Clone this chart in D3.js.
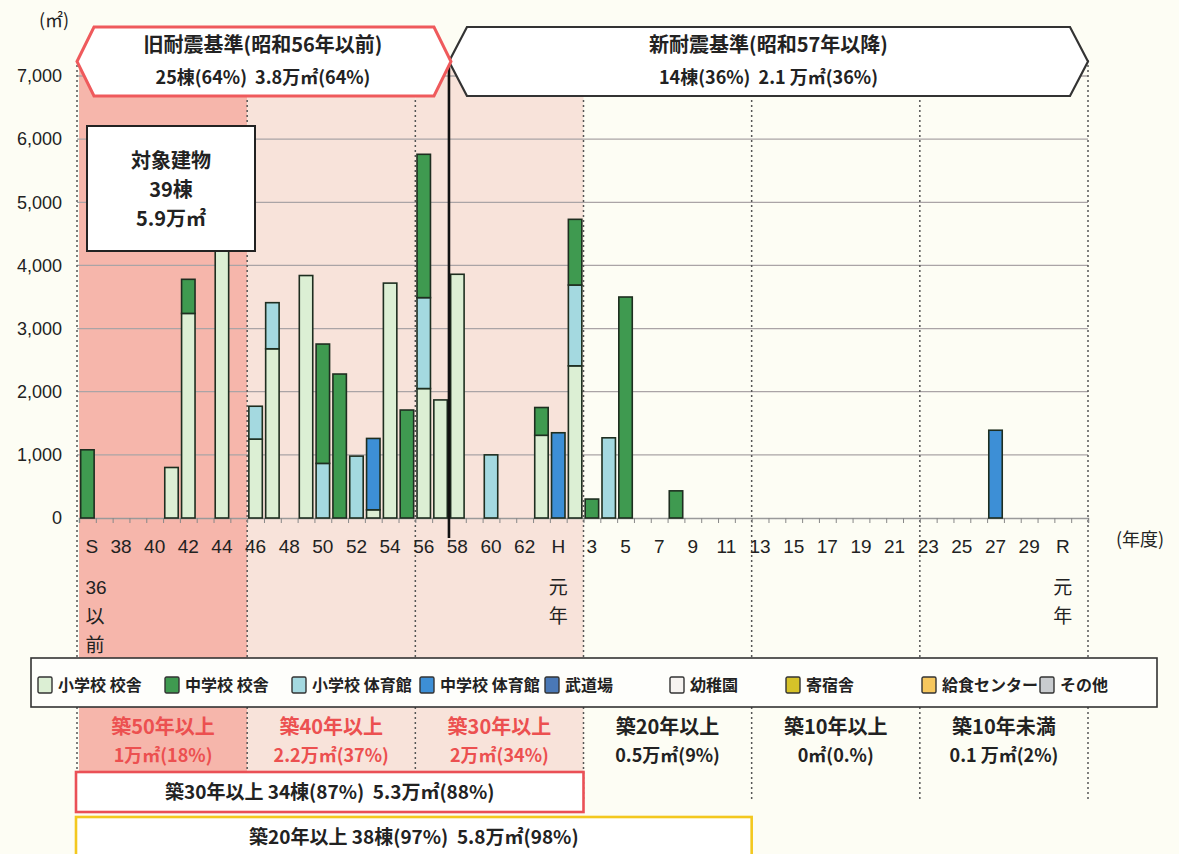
<!DOCTYPE html>
<html>
<head>
<meta charset="utf-8">
<script src="https://cdn.jsdelivr.net/npm/d3@7"></script>
<style>
  body { margin: 0; background: #fdfdf4; }
  svg { display: block; }
  text { font-family: "Noto Sans CJK JP", "Noto Sans", sans-serif; fill: #222; white-space: pre; }
  .num { font-family: "Liberation Sans", Arial, sans-serif; }
</style>
</head>
<body>
<svg id="chart" width="1179" height="854"></svg>
<script>
// categories: fiscal years, S36 and earlier through R2
var categories = [
  "S36以前","S37","S38","S39","S40","S41","S42","S43","S44","S45",
  "S46","S47","S48","S49","S50","S51","S52","S53","S54","S55",
  "S56","S57","S58","S59","S60","S61","S62","S63","H元","H2",
  "H3","H4","H5","H6","H7","H8","H9","H10","H11","H12",
  "H13","H14","H15","H16","H17","H18","H19","H20","H21","H22",
  "H23","H24","H25","H26","H27","H28","H29","H30","R元","R2"
];

// floor area (m2) by type
var shoKosha = [
  0,0,0,0,0,800,3240,0,4750,0,
  1250,2680,0,3840,0,0,0,130,3720,0,
  2050,1870,3860,0,0,0,0,1310,0,2410,
  0,0,0,0,0,0,0,0,0,0,
  0,0,0,0,0,0,0,0,0,0,
  0,0,0,0,0,0,0,0,0,0
];
var shoTaiiku = [
  0,0,0,0,0,0,0,0,0,0,
  520,730,0,0,865,0,980,0,0,0,
  1440,0,0,0,1000,0,0,0,0,1280,
  0,1270,0,0,0,0,0,0,0,0,
  0,0,0,0,0,0,0,0,0,0,
  0,0,0,0,0,0,0,0,0,0
];
var chuKosha = [
  1080,0,0,0,0,0,540,0,0,0,
  0,0,0,0,1890,2280,0,0,0,1710,
  2270,0,0,0,0,0,0,440,0,1040,
  300,0,3500,0,0,430,0,0,0,0,
  0,0,0,0,0,0,0,0,0,0,
  0,0,0,0,0,0,0,0,0,0
];
var chuTaiiku = [
  0,0,0,0,0,0,0,0,0,0,
  0,0,0,0,0,0,0,1130,0,0,
  0,0,0,0,0,0,0,0,1350,0,
  0,0,0,0,0,0,0,0,0,0,
  0,0,0,0,0,0,0,0,0,0,
  0,0,0,0,1390,0,0,0,0,0
];

var legendNames = ["小学校 校舎","中学校 校舎","小学校 体育館","中学校 体育館","武道場","幼稚園","寄宿舎","給食センター","その他"];
var legendColors = ["#dcefd4","#3f9a50","#a4d9e0","#3d8fd6","#4a78b6","#f6f3f0","#d6c229","#f6c75e","#c9cccf"];

var yTicks = [0,1000,2000,3000,4000,5000,6000,7000];

// tick labels, each a column of lines
var xLabels = [
  ["S36以前", ["S","36","以","前"]],
  ["S38",["38"]],["S40",["40"]],["S42",["42"]],["S44",["44"]],["S46",["46"]],
  ["S48",["48"]],["S50",["50"]],["S52",["52"]],["S54",["54"]],["S56",["56"]],
  ["S58",["58"]],["S60",["60"]],["S62",["62"]],
  ["H元", ["H","元","年"]],
  ["H3",["3"]],["H5",["5"]],["H7",["7"]],["H9",["9"]],["H11",["11"]],["H13",["13"]],
  ["H15",["15"]],["H17",["17"]],["H19",["19"]],["H21",["21"]],["H23",["23"]],
  ["H25",["25"]],["H27",["27"]],["H29",["29"]],
  ["R元", ["R","元","年"]]
];

// age bands (築年数) in groups of ten categories
var ageBands = ["築50年以上","築40年以上","築30年以上","築20年以上","築10年以上","築10年未満"];
var ageAreas = ["1万㎡(18%)","2.2万㎡(37%)","2万㎡(34%)","0.5万㎡(9%)","0㎡(0.%)","0.1 万㎡(2%)"];

var svg = d3.select("#chart");

var x = d3.scaleBand().domain(categories).range([79, 1088]).paddingInner(0.2).paddingOuter(0.1);
var step = x.step();
var x0 = 79;
function edge(i) { return x0 + step * i; }
var y = d3.scaleLinear().domain([0, 7000]).range([518, 76]);

// background bands
var bandFills = ["#f6b6ab","#f8e3da","#f8e3da"];
bandFills.forEach(function(c, i) {
  svg.append("rect").attr("x", edge(i*10)).attr("y", 60)
    .attr("width", step*10).attr("height", 598).attr("fill", c);
  svg.append("rect").attr("x", edge(i*10)).attr("y", 707)
    .attr("width", step*10).attr("height", 66).attr("fill", c);
});

// grid
svg.append("g").selectAll("line").data(yTicks.slice(1)).enter().append("line")
  .attr("x1", 77).attr("x2", edge(60))
  .attr("y1", function(d){ return y(d); }).attr("y2", function(d){ return y(d); })
  .attr("stroke", "#aaa4a6").attr("stroke-width", 1.3);

// dotted band lines
var bounds = [0,10,20,30,40,50,60];
svg.append("g").selectAll("line").data(bounds).enter().append("line")
  .attr("x1", function(d){ return d === 0 ? 77 : edge(d); })
  .attr("x2", function(d){ return d === 0 ? 77 : edge(d); })
  .attr("y1", 60).attr("y2", 658)
  .attr("stroke", "#555").attr("stroke-width", 1.5).attr("stroke-dasharray", "2,3");
svg.append("g").selectAll("line").data(bounds).enter().append("line")
  .attr("x1", function(d){ return d === 0 ? 77 : edge(d); })
  .attr("x2", function(d){ return d === 0 ? 77 : edge(d); })
  .attr("y1", 707).attr("y2", 802)
  .attr("stroke", "#555").attr("stroke-width", 1.5).attr("stroke-dasharray", "2,3");

// y axis
var yAxis = d3.axisLeft(y).tickValues(yTicks).tickFormat(d3.format(",")).tickSize(0).tickPadding(15);
var gy = svg.append("g").attr("transform", "translate(77,0)").call(yAxis);
gy.select(".domain").remove();
gy.selectAll("text").attr("class", "num")
  .style("font-family", "'Liberation Sans Narrow', 'Liberation Sans', Arial, sans-serif")
  .style("font-size", "18px").attr("fill", "#222");

// x axis with ticks at category edges
var xe = d3.scaleLinear().domain([0, 60]).range([x0, edge(60)]);
var gx = svg.append("g").attr("transform", "translate(0,518)")
  .call(d3.axisBottom(xe).tickValues(d3.range(0, 61)).tickSize(5).tickFormat(""));
gx.select(".domain").attr("stroke", "#9a9a9a").attr("stroke-width", 1.5);
gx.selectAll(".tick line").attr("stroke", "#888");

var rowsY = [546, 587, 616, 645];
var lab = svg.append("g");
xLabels.forEach(function(l) {
  var cx = x(l[0]) + x.bandwidth() / 2;
  var first = l[0] === "S36以前";
  l[1].forEach(function(t, j) {
    lab.append("text")
      .attr("class", /^[0-9A-Z]+$/.test(t) ? "num" : null)
      .attr("x", first ? cx - 2 : cx)
      .attr("y", rowsY[j])
      .attr("dy", "0.36em")
      .attr("text-anchor", first ? "start" : "middle")
      .style("font-size", "19px")
      .text(t);
  });
});
svg.append("text").attr("x", 1140).attr("y", 540).attr("dy", "0.36em")
  .attr("text-anchor", "middle").style("font-size", "18px").text("(年度)");
svg.append("text").attr("x", 54).attr("y", 21).attr("dy", "0.36em")
  .attr("text-anchor", "middle").style("font-size", "18px").text("(㎡)");

// stacked bars
var stackKeys = ["shoKosha","shoTaiiku","chuKosha","chuTaiiku"];
var keyColor = { shoKosha: legendColors[0], shoTaiiku: legendColors[2], chuKosha: legendColors[1], chuTaiiku: legendColors[3] };
var rows = categories.map(function(c, i) {
  return { cat: c, shoKosha: shoKosha[i], shoTaiiku: shoTaiiku[i], chuKosha: chuKosha[i], chuTaiiku: chuTaiiku[i] };
});
var stacked = d3.stack().keys(stackKeys)(rows);

svg.append("g").selectAll("g").data(stacked).enter().append("g")
  .attr("fill", function(s){ return keyColor[s.key]; })
  .selectAll("rect")
  .data(function(s){ return s.filter(function(d){ return d[1] > d[0]; }); })
  .enter().append("rect")
  .attr("x", function(d){ return x(d.data.cat); })
  .attr("width", x.bandwidth())
  .attr("y", function(d){ return y(d[1]); })
  .attr("height", function(d){ return y(d[0]) - y(d[1]); })
  .attr("stroke", "#1e2e20").attr("stroke-width", 1.6);

// old / new divider
svg.append("line").attr("x1", edge(22)).attr("x2", edge(22)).attr("y1", 60).attr("y2", 538)
  .attr("stroke", "#111").attr("stroke-width", 2.6);

// header arrows
function arrowPts(l, r, top, bot, ind) {
  var m = (top + bot) / 2;
  return [[l, m],[l+ind, top],[r-ind, top],[r, m],[r-ind, bot],[l+ind, bot]].map(function(p){ return p.join(","); }).join(" ");
}
svg.append("polygon").attr("points", arrowPts(edge(22), edge(60), 27, 96, 18))
  .attr("fill", "#ffffff").attr("stroke", "#333").attr("stroke-width", 2.2);
svg.append("polygon").attr("points", arrowPts(77, edge(22)+2, 27, 96, 17))
  .attr("fill", "#ffffff").attr("stroke", "#ef5a5c").attr("stroke-width", 3);

var head = [
  [ (77 + edge(22)) / 2, "旧耐震基準(昭和56年以前)", "25棟(64%)  3.8万㎡(64%)" ],
  [ (edge(22) + edge(60)) / 2, "新耐震基準(昭和57年以降)", "14棟(36%)  2.1 万㎡(36%)" ]
];
head.forEach(function(h) {
  svg.append("text").attr("x", h[0]).attr("y", 45).attr("dy", "0.36em").attr("text-anchor", "middle")
    .style("font-size", "20px").style("font-weight", "bold").text(h[1]);
  svg.append("text").attr("x", h[0]).attr("y", 78).attr("dy", "0.36em").attr("text-anchor", "middle")
    .style("font-size", "18px").style("font-weight", "bold").text(h[2]);
});

// target building box
svg.append("rect").attr("x", 87).attr("y", 126).attr("width", 168).attr("height", 125)
  .attr("fill", "#fff").attr("stroke", "#222").attr("stroke-width", 2);
[["対象建物", 161], ["39棟", 190], ["5.9万㎡", 219]].forEach(function(t) {
  svg.append("text").attr("x", 171).attr("y", t[1]).attr("dy", "0.36em").attr("text-anchor", "middle")
    .style("font-size", "20px").style("font-weight", "bold").text(t[0]);
});

// legend
var legendX = [38, 165, 292, 420, 545, 670, 786, 922, 1040];
svg.append("rect").attr("x", 31).attr("y", 658).attr("width", 1126).attr("height", 49)
  .attr("fill", "#fefefb").attr("stroke", "#333").attr("stroke-width", 1.6);
var lg = svg.append("g").selectAll("g").data(legendNames).enter().append("g")
  .attr("transform", function(d, i){ return "translate(" + legendX[i] + ",677)"; });
lg.append("rect").attr("width", 14).attr("height", 16).attr("rx", 1.5)
  .attr("fill", function(d, i){ return legendColors[i]; })
  .attr("stroke", "#333").attr("stroke-width", 1.4);
lg.append("text").attr("x", 20).attr("y", 8).attr("dy", "0.36em")
  .style("font-size", "16px").style("font-weight", "bold").text(function(d){ return d; });

// age band labels
ageBands.forEach(function(b, i) {
  var cx = (edge(i*10) + edge(i*10 + 10)) / 2;
  var col = i < 3 ? "#ec5050" : "#222";
  svg.append("text").attr("x", cx).attr("y", 727).attr("dy", "0.36em").attr("text-anchor", "middle")
    .style("font-size", "20px").style("font-weight", "bold").style("fill", col).text(b);
  svg.append("text").attr("x", cx).attr("y", 756).attr("dy", "0.36em").attr("text-anchor", "middle")
    .style("font-size", "18px").style("font-weight", "bold").style("fill", col).text(ageAreas[i]);
});

// summary boxes
svg.append("rect").attr("x", 76).attr("y", 772).attr("width", edge(30) - 76).attr("height", 40)
  .attr("fill", "#fff").attr("stroke", "#ea5056").attr("stroke-width", 2.6);
svg.append("text").attr("x", (76 + edge(30)) / 2).attr("y", 792).attr("dy", "0.36em").attr("text-anchor", "middle")
  .style("font-size", "19px").style("font-weight", "bold").text("築30年以上 34棟(87%)  5.3万㎡(88%)");
svg.append("rect").attr("x", 76).attr("y", 817).attr("width", edge(40) - 76).attr("height", 50)
  .attr("fill", "#fff").attr("stroke", "#f3c81e").attr("stroke-width", 2.6);
svg.append("text").attr("x", (76 + edge(40)) / 2).attr("y", 837).attr("dy", "0.36em").attr("text-anchor", "middle")
  .style("font-size", "19px").style("font-weight", "bold").text("築20年以上 38棟(97%)  5.8万㎡(98%)");
</script>
</body>
</html>
